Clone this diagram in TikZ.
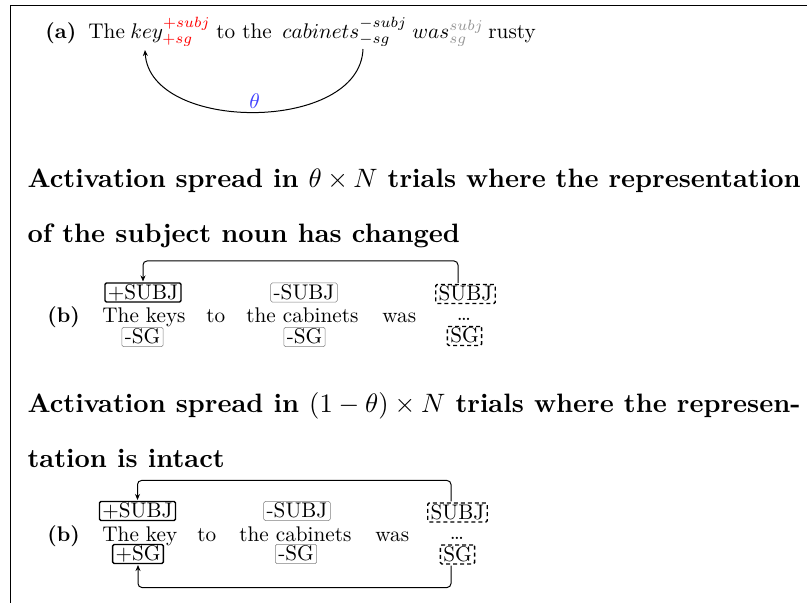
\RequirePackage{fix-cm}
\documentclass[tikz,border=0pt]{standalone}
\usetikzlibrary{arrows.meta}
\definecolor{thetablue}{RGB}{64,64,255}
\definecolor{scriptgray}{RGB}{150,150,150}
\tikzset{
  body/.style={font=\fontsize{10}{12}\selectfont, scale=2.12},
  txt/.style={body, anchor=base west, inner sep=0pt},
  head/.style={anchor=base west, inner sep=0pt, scale=2.66, font=\fontsize{10}{12}\selectfont\bfseries},
  featbox/.style={body, rounded corners=1.5pt, inner xsep=1.4pt, inner ysep=0.7pt, text height=6.9pt, text depth=0.7pt},
  boxthick/.style={featbox, draw, line width=1.4pt},
  boxgray/.style={featbox, draw=gray, line width=0.5pt},
  boxdash/.style={featbox, draw, line width=1.4pt, dash pattern=on 4pt off 3pt},
  tip/.style={-{Stealth[length=6pt,width=5pt]}},
  conn/.style={line width=1pt, rounded corners=4pt, tip},
}
\begin{document}
\begin{tikzpicture}[x=1pt,y=-1pt]
\useasboundingbox (0,0) rectangle (807,603);
% frame
\draw[line width=0.8pt] (807,5) -- (10,5) -- (10,603);

% (a)
\node[txt] (alab) at (45,38) {\textbf{(a)}};
\node[txt] (athe) at (88,38) {The};
\node[txt] (akey) at (130,38) {$key^{\textcolor{red}{+subj}}_{\textcolor{red}{+sg}}$};
\node[txt] (ato) at (216,38) {to the};
\node[txt] (acab) at (282,38) {$cabinets^{-subj}_{-sg}$};
\node[txt] (awas) at (412,38) {$was^{\textcolor{scriptgray}{subj}}_{\textcolor{scriptgray}{sg}}$};
\node[txt] (arusty) at (488,38) {rusty};
\coordinate (cs) at ([xshift=81pt,yshift=-11pt]acab.base west);
\coordinate (ks) at ([xshift=15pt,yshift=-12pt]akey.base west);
\draw[line width=1pt, tip] (cs) .. controls (360,133) and (150,133) .. node[midway, above, inner sep=1pt, text=thetablue, body] {$\theta$} (ks);

% headings
\node[head] (h1) at (27,187) {\makebox[290.6pt][s]{Activation spread in $\theta\times N$ trials where the representation}};
\node[head] (h2) at (27,242) {of the subject noun has changed};

% (b) first
\node[txt] (blab) at (47,322.5) {\textbf{(b)}};
\node[txt] (bw1) at (102,322.5) {The keys};
\node[txt] (bw2) at (206,322.5) {to};
\node[txt] (bw3) at (246,322.5) {the cabinets};
\node[txt] (bw4) at (382,322.5) {was};
\node[body, anchor=base, inner sep=0pt] (bdots) at (464,320.5) {\dots};
\node[boxthick] (bps) at (143,292.5) {+SUBJ};
\node[boxgray] (bms) at (304,292.5) {-SUBJ};
\node[boxdash] (bs) at (465.5,294) {SUBJ};
\node[boxgray] (bmg1) at (142.5,337) {-SG};
\node[boxgray] (bmg2) at (304.5,337) {-SG};
\node[boxdash] (bg) at (464.5,336) {SG};
\draw[conn] ([xshift=-7.5pt]bs.north) -- ++(0,-22) -| (bps.north);

% headings
\node[head] (h3) at (27,412) {\makebox[290.6pt][s]{Activation spread in $(1-\theta)\times N$ trials where the represen-}};
\node[head] (h4) at (27,467) {tation is intact};

% (b) second
\node[txt] (clab) at (47,541) {\textbf{(b)}};
\node[txt] (cw1) at (102,541) {The key};
\node[txt] (cw2) at (197,541) {to};
\node[txt] (cw3) at (239,541) {the cabinets};
\node[txt] (cw4) at (375,541) {was};
\node[body, anchor=base, inner sep=0pt] (cdots) at (457,539) {\dots};
\node[boxthick] (cps) at (137.5,511) {+SUBJ};
\node[boxgray] (cms) at (297,511) {-SUBJ};
\node[boxdash] (cs2) at (457.5,512.5) {SUBJ};
\node[boxthick] (cpg) at (138,554) {+SG};
\node[boxgray] (cmg) at (296,554) {-SG};
\node[boxdash] (cg) at (457.5,554.5) {SG};
\draw[conn] ([xshift=-6.5pt]cs2.north) -- ++(0,-21) -| (cps.north);
\draw[conn] ([xshift=-6.5pt]cg.south) -- ++(0,22) -| (cpg.south);
\end{tikzpicture}
\end{document}
